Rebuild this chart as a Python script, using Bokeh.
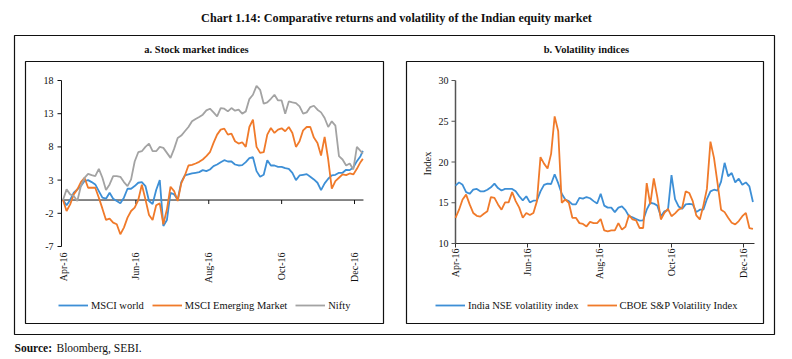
import math
from bokeh.plotting import figure
from bokeh.models import Range1d, Legend, Label, BoxAnnotation
from bokeh.core.properties import value
from bokeh.embed import file_html
from bokeh.resources import INLINE

FONT = "Liberation Serif"
INK = "#111111"
BLUE = "#3D8FD6"
ORANGE = "#F07A2A"
GREY = "#A3A3A3"

# x ticks: days since 1 April 2016
tick_days = [0, 61, 122, 183, 244]
tick_labels = ["Apr-16", "Jun-16", "Aug-16", "Oct-16", "Dec-16"]

# ---------- panel a: stock market indices ----------
days_a = list(range(0, 250, 3)) + [251]
msci_world = [0, -0.8, 0, 1.1, 1.6, 2.1, 2.85, 3.0, 2.7, 2.35, 1.35, 0.35, 0.2, 1.1, 0.2, -0.15, -0.5, 0.35, 1.7, 1.7, 2.1, 2.6,
              2.7, 2.1, -0.15, -0.6, 1.5, 3.0, -3.9, -3.0, 1.1, 0.85, 0.1, 2.7, 3.7, 3.85, 4.0, 4.1, 4.2, 4.5, 4.35, 4.6, 5.1,
              5.35, 5.7, 6.0, 5.8, 5.8, 5.35, 5.2, 5.25, 5.7, 6.3, 6.45, 4.35, 3.5, 3.8, 6.0, 5.2, 5.2, 5.0, 5.0, 4.8, 4.7, 4.1,
              3.0, 3.7, 3.8, 3.9, 3.5, 3.1, 2.6, 1.5, 2.5, 3.2, 3.7, 3.8, 4.1, 4.1, 4.55, 4.5, 4.9, 5.85, 6.6, 7.4]
msci_em = [0, -1.65, -0.65, 0.85, 1.6, 2.7, 3.35, 1.85, 1.85, 1.85, 0.35, -1.3, -3.0, -2.8, -3.4, -3.65, -5.15, -4.15, -2.65, -1.65, -1.15, 0.0,
           2.3, 0.1, -2.25, -3.0, -0.8, -0.5, -3.65, -1.4, 2.0, 1.35, -0.15, 2.5, 3.7, 5.2, 5.3, 5.5, 5.75, 6.1, 6.6, 7.2, 8.6,
           9.85, 10.6, 10.75, 9.85, 10.0, 8.85, 8.5, 8.7, 8.0, 11.0, 12.1, 8.0, 7.1, 7.2, 9.85, 10.85, 10.1, 10.6, 10.8, 10.35, 11.0, 10.1,
           8.0, 8.85, 10.5, 11.0, 11.0, 9.4, 8.6, 6.7, 9.5, 6.1, 1.7, 2.85, 3.35, 3.85, 3.75, 4.0, 3.85, 4.7, 5.7, 6.2]
nifty = [0, 1.6, 0.85, 0.6, -0.15, 2.1, 3.35, 3.95, 3.75, 3.6, 4.7, 3.35, 1.5, 2.35, 3.6, 3.6, 3.5, 2.7, 2.1, 3.1, 5.8, 7.2,
         7.35, 8.0, 8.5, 7.35, 7.35, 8.0, 7.85, 7.1, 6.35, 7.7, 9.35, 9.7, 10.35, 11.0, 11.85, 12.2, 12.5, 12.85, 13.5, 13.75, 13.2,
         12.6, 13.85, 13.75, 13.35, 13.85, 13.45, 13.6, 13.0, 13.35, 15.2, 15.85, 17.2, 16.6, 14.5, 14.7, 15.25, 15.85, 15.0, 15.0, 13.0, 14.85, 14.7,
         14.6, 14.1, 13.0, 13.2, 14.0, 14.2, 13.6, 13.2, 12.35, 11.0, 11.85, 11.2, 6.6, 6.1, 5.2, 5.5, 4.6, 8.0, 7.4, 7.0]
ticks_a = [-7, -2, 3, 8, 13, 18]
ticks_a_labels = ["-7", "-2", "3", "8", "13", "18"]

# ---------- panel b: volatility indices ----------
days_b = list(range(0, 253, 3))
nse_vix = [17.1, 17.5, 17.2, 16.3, 16.1, 16.6, 16.7, 16.4, 16.4, 16.6, 16.9, 17.35, 16.8, 16.5, 16.7, 16.7, 16.7, 16.4, 15.8, 15.3, 15.8, 15.05,
           15.25, 15.3, 16.4, 17.2, 17.35, 17.3, 18.5, 17.4, 16.1, 15.4, 15.2, 14.8, 14.8, 15.6, 15.5, 15.7, 15.55, 15.2, 14.9, 16.1, 14.65, 14.4,
           14.4, 13.85, 14.4, 14.55, 14.1, 13.35, 13.2, 13.0, 12.8, 12.85, 14.15, 15.0, 14.9, 14.65, 13.35, 13.95, 14.1, 18.4, 15.45, 14.55, 14.25, 14.8,
           14.85, 14.8, 13.85, 14.15, 14.15, 15.45, 16.4, 16.6, 16.5, 17.6, 19.9, 18.25, 18.65, 17.5, 17.95, 17.2, 17.5, 17.0, 15.1]
cboe_vix = [13.15, 14.15, 15.4, 16.0, 14.8, 13.75, 13.4, 13.3, 13.65, 13.95, 15.7, 15.6, 14.8, 14.15, 15.05, 15.05, 16.3, 15.2, 14.4, 13.15, 13.75, 13.5,
            13.75, 15.2, 20.6, 19.8, 19.2, 21.0, 25.6, 23.8, 15.0, 15.4, 15.0, 13.15, 13.15, 12.5, 12.4, 12.1, 12.65, 12.5, 12.5, 13.0, 11.6, 11.5,
            11.6, 11.6, 12.5, 11.7, 12.05, 13.5, 12.95, 12.85, 11.9, 11.9, 17.4, 14.8, 18.0, 15.7, 12.95, 13.75, 14.25, 13.35, 13.7, 14.15, 14.35, 16.4,
            16.2, 15.2, 13.45, 12.95, 14.65, 16.7, 22.5, 20.5, 17.4, 14.15, 13.85, 13.15, 12.55, 12.35, 12.75, 13.35, 13.75, 11.9, 11.8]
ticks_b = [10, 15, 20, 25, 30]
ticks_b_labels = ["10", "15", "20", "25", "30"]

# ---------- geometry: the plot frame is the whole canvas (page pixels) ----------
W, H = 790, 357


def scale_range(px_a, val_a, px_b, val_b, size, flip=False):
    """Range covering the canvas, given two pixel anchors of a panel's scale."""
    k = (val_b - val_a) / (px_b - px_a)
    if flip:  # vertical: pixel grows downwards, values upwards
        return (val_a + (size - px_a) * k, val_a - px_a * k)
    return (val_a - px_a * k, val_a + (size - px_a) * k)


A_XR = scale_range(62.5, 0, 354, 244, W)
A_YR = scale_range(80, 18, 246, -7, H, flip=True)
B_XR = scale_range(455, 0, 743, 244, W)
B_YR = scale_range(80, 30, 243, 10, H, flip=True)
A_X0, A_X1 = -1.26, 251.5    # extent of panel a's axes (days)
A_Y0, A_Y1 = -7, 18
B_X0, B_X1 = 0, 253.3
B_Y0, B_Y1 = 10, 30

p = figure(width=W, height=H, output_backend="svg", toolbar_location=None,
           x_range=Range1d(*A_XR), y_range=Range1d(*A_YR),
           min_border_left=0, min_border_right=0, min_border_top=0, min_border_bottom=0)
p.extra_x_ranges = {"bx": Range1d(*B_XR)}
p.extra_y_ranges = {"by": Range1d(*B_YR)}
p.axis.visible = False
p.grid.visible = False
p.outline_line_color = None
p.background_fill_color = "white"
p.border_fill_color = "white"

TXT = dict(text_font=value(FONT), text_font_size=value("10px"), text_color=INK)
B = dict(x_range_name="bx", y_range_name="by")

# ----- panel a axes -----
p.segment(x0=A_X0, y0=A_Y0, x1=A_X0, y1=A_Y1, line_color=INK, line_width=1)
p.ray(x=A_X0, y=ticks_a, length=4, length_units="screen", angle=math.pi, line_color=INK, line_width=1)
p.text(x=A_X0, y=ticks_a, text=ticks_a_labels, x_offset=-8, text_align="right", text_baseline="middle", **TXT)
p.segment(x0=A_X0, y0=0, x1=A_X1, y1=0, line_color=INK, line_width=1)
p.ray(x=tick_days[1:], y=0, length=4, length_units="screen", angle=-math.pi / 2, line_color=INK, line_width=1)
p.text(x=tick_days, y=A_Y0, text=tick_labels, y_offset=6, angle=math.pi / 2,
       text_align="right", text_baseline="middle", **TXT)

# ----- panel b axes -----
p.segment(x0=B_X0, y0=B_Y0, x1=B_X0, y1=B_Y1, line_color="#555555", line_width=1.5, **B)
p.ray(x=B_X0, y=ticks_b, length=4, length_units="screen", angle=math.pi, line_color="#555555", line_width=1, **B)
p.text(x=B_X0, y=ticks_b, text=ticks_b_labels, x_offset=-7, text_align="right", text_baseline="middle", **TXT, **B)
p.segment(x0=B_X0, y0=B_Y0, x1=B_X1, y1=B_Y0, line_color="#333333", line_width=1, **B)
p.ray(x=tick_days, y=B_Y0, length=4, length_units="screen", angle=-math.pi / 2, line_color="#333333", line_width=1, **B)
p.text(x=tick_days, y=B_Y0, text=tick_labels, y_offset=5, angle=math.pi / 2,
       text_align="right", text_baseline="middle", **TXT, **B)

# ----- series -----
ra1 = p.line(days_a, msci_world, line_color=BLUE, line_width=1.8)
ra2 = p.line(days_a, msci_em, line_color=ORANGE, line_width=1.8)
ra3 = p.line(days_a, nifty, line_color=GREY, line_width=1.8)
rb1 = p.line(days_b, nse_vix, line_color=BLUE, line_width=1.8, **B)
rb2 = p.line(days_b, cboe_vix, line_color=ORANGE, line_width=1.8, **B)


# page pixel -> screen units from the frame's bottom-left
def sx(px):
    return px


def sy(py):
    return H - py


def legend(items, px_left):
    return Legend(items=items, location=(sx(px_left), sy(312)), orientation="horizontal",
                  border_line_color=None, background_fill_alpha=0, margin=0, padding=2,
                  label_text_font=FONT, label_text_font_size="10.5px", label_text_color=INK,
                  glyph_width=30, glyph_height=14, label_height=14, label_standoff=3, spacing=8)


p.add_layout(legend([("MSCI world", [ra1]), ("MSCI Emerging Market", [ra2]), ("Nifty", [ra3])], 58))
p.add_layout(legend([("India NSE volatility index", [rb1]), ("CBOE S&P Volatility Index", [rb2])], 435))

# boxes: outer frame and the two panel frames
for (l, t, r, b) in [(14, 35, 774, 334), (25, 61, 383, 323), (406, 61, 763, 323)]:
    p.add_layout(BoxAnnotation(left=sx(l), right=sx(r), top=sy(t), bottom=sy(b),
                               left_units="screen", right_units="screen", top_units="screen", bottom_units="screen",
                               fill_alpha=0, fill_color=None, line_color=INK, line_width=1.2, line_alpha=1))


def label(text, px, py, size, style="normal", align="center", angle=0.0):
    p.add_layout(Label(x=sx(px), y=sy(py), x_units="screen", y_units="screen", text=text,
                       text_align=align, text_baseline="middle", text_font=FONT, text_font_size=size,
                       text_font_style=style, text_color=INK, angle=angle))


label("Chart 1.14: Comparative returns and volatility of the Indian equity market", 396, 17, "12.2px", "bold")
label("a. Stock market indices", 196, 49, "10.5px", "bold")
label("b. Volatility indices", 586, 49, "10.5px", "bold")
label("Index", 427, 163, "10.5px", angle=math.pi / 2)
label("Source:", 14, 347, "11.5px", "bold", align="left")
label("Bloomberg, SEBI.", 56, 347, "11.5px", align="left")

open("out.html", "w").write(file_html(p, INLINE))
